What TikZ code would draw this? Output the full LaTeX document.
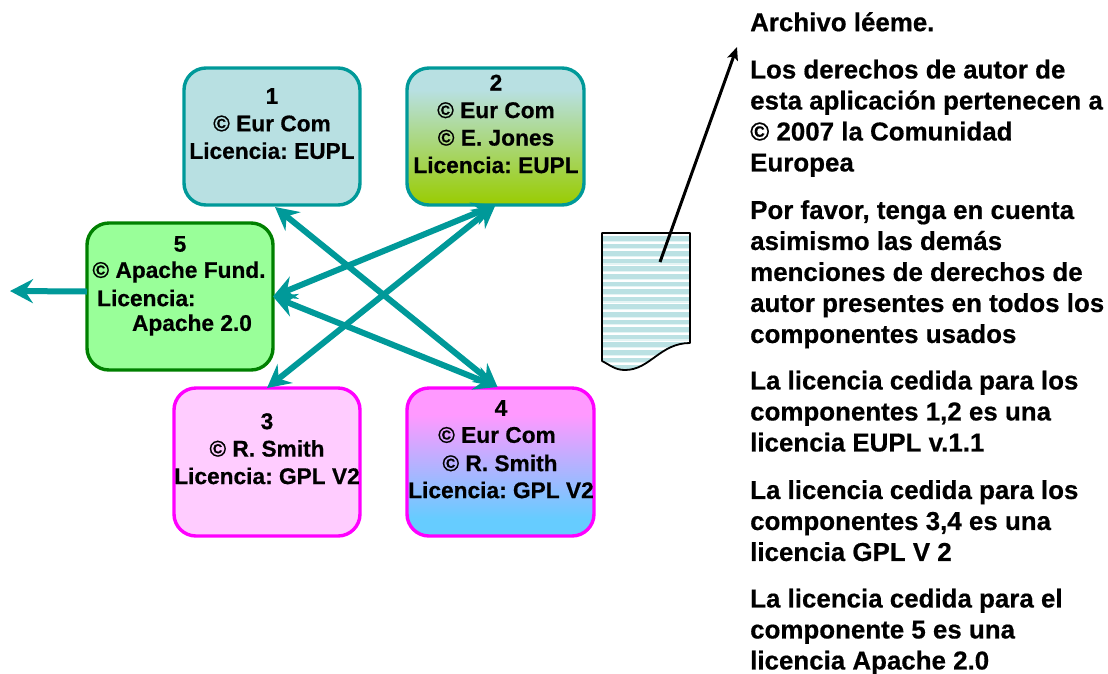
\documentclass[tikz,border=0pt]{standalone}
\usepackage{fontspec}
\setmainfont{Liberation Sans}[BoldFeatures={FakeBold=0.5}]
\usetikzlibrary{arrows.meta}
\AtBeginDocument{\frenchspacing}
\definecolor{teal1}{HTML}{009999}
\definecolor{stripe}{HTML}{BBE1E3}
\definecolor{stripelight}{HTML}{E4F4F4}
\definecolor{lightteal}{RGB}{184,224,226}
\definecolor{olivegreen}{RGB}{153,204,0}
\definecolor{pinktop}{RGB}{255,153,255}
\definecolor{skybot}{RGB}{102,204,255}
\pgfdeclareverticalshading{tealgreen}{100bp}{color(0bp)=(olivegreen); color(25bp)=(olivegreen); color(67bp)=(lightteal); color(100bp)=(lightteal)}
\pgfdeclareverticalshading{pinkblue}{100bp}{color(0bp)=(skybot); color(31bp)=(skybot); color(66bp)=(pinktop); color(100bp)=(pinktop)}
\tikzset{
 box/.style={rounded corners=22pt,line width=3.4pt,outer sep=0pt,inner sep=0pt,draw},
 boxtxt/.style={font=\fontsize{22.7}{27.5}\selectfont\bfseries,align=center,anchor=north,inner sep=0pt},
 linetxt/.style={font=\fontsize{22.7}{27.5}\selectfont\bfseries,inner sep=0pt},
 para/.style={font=\fontsize{25.9}{31}\selectfont\bfseries,align=left,anchor=north west,inner sep=0pt},
 link/.style={teal1,line width=6pt,{Stealth[length=23pt,width=24pt,inset=8pt]}-{Stealth[length=23pt,width=24pt,inset=8pt]}},
 outlink/.style={teal1,line width=6pt,-{Stealth[length=23pt,width=24pt,inset=8pt]}},
 pin/.style={black,line width=3pt,-{Stealth[length=13pt,width=11pt,inset=3pt]}},
}
\begin{document}
\begin{tikzpicture}[x=1pt,y=-1pt]
\useasboundingbox (0,0) rectangle (1108,673);
\node[box,minimum width=176pt,minimum height=137pt,draw=teal1,fill=lightteal] (b1) at (272,136.5) {};
\node[box,minimum width=177pt,minimum height=137pt,draw=teal1,shading=tealgreen] (b2) at (495.5,136.5) {};
\node[box,minimum width=186pt,minimum height=147pt,draw={rgb,255:red,0;green,128;blue,0},fill={rgb,255:red,153;green,255;blue,153}] (b5) at (180,296.5) {};
\node[box,minimum width=186pt,minimum height=148pt,draw={rgb,255:red,255;green,0;blue,255},fill={rgb,255:red,255;green,204;blue,255}] (b3) at (267,462) {};
\node[box,minimum width=187pt,minimum height=148pt,draw={rgb,255:red,255;green,0;blue,255},shading=pinkblue] (b4) at (500.5,462) {};
% document
\begin{scope}
\clip (602,233) -- (690,233) -- (690,343) .. controls (660,343) and (650,370) .. (625,370) .. controls (615,370) and (610,365) .. (602,361) -- cycle;
\foreach \yy in {236,243.6,...,372}{
 \fill[stripe] (600,\yy) rectangle (692,\yy+4.6);
 \fill[stripelight] (600,\yy+4.6) rectangle (692,\yy+5.8);
}
\end{scope}
\draw[line width=1.8pt,line join=round] (602,233) -- (690,233) -- (690,343) .. controls (660,343) and (650,370) .. (625,370) .. controls (615,370) and (610,365) .. (602,361) -- cycle;
\coordinate (docpin) at (660,262);
\coordinate (pintip) at (737,47);
\coordinate (outtip) at (10,291);
\draw[pin] (docpin) -- (pintip);
% links
\path (b1.south) ++(3,2) coordinate (l1a) (b4.north) ++(-3,-1) coordinate (l1b);
\draw[link] (l1a) -- (l1b);
\draw[link] (b2.south) -- (b5.east);
\draw[link] (b2.south) -- (b3.north);
\draw[link] (b5.east) -- (l1b);
\draw[outlink] ([yshift=5pt]b5.west) -- (outtip);
% box text
\node[boxtxt] (t1) at (272,88) {1\\© Eur Com\\Licencia: EUPL};
\node[boxtxt] (t2) at (496,74.5) {2\\© Eur Com\\© E. Jones\\Licencia: EUPL};
\node[boxtxt] (t3) at (267,413) {3\\© R. Smith\\Licencia: GPL V2};
\node[linetxt] (t4a) at (501,408) {4};
\node[linetxt] (t4b) at (497,435) {© Eur Com};
\node[linetxt] (t4c) at (500,463) {© R. Smith};
\node[linetxt] (t4d) at (501,490) {Licencia: GPL V2};
\node[linetxt] (t5a) at (180,244) {5};
\node[linetxt] (t5b) at (179,272) {© Apache Fund.};
\node[linetxt,anchor=west] (t5c) at (97,298) {Licencia:};
\node[linetxt] (t5d) at (192,325) {Apache 2.0};
% right text
\node[para] (p1) at (750,12) {Archivo léeme.};
\node[para] (p2) at (750,59.5) {Los derechos de autor de\\esta aplicación pertenecen a\\© 2007 la Comunidad\\Europea};
\node[para] (p3) at (750,200) {Por favor, tenga en cuenta\\asimismo las demás\\menciones de derechos de\\autor presentes en todos los\\componentes usados};
\node[para] (p4) at (750,370.5) {La licencia cedida para los\\componentes 1,2 es una\\licencia EUPL v.1.1};
\node[para] (p5) at (750,480) {La licencia cedida para los\\componentes 3,4 es una\\licencia GPL V 2};
\node[para] (p6) at (750,588.5) {La licencia cedida para el\\componente 5 es una\\licencia Apache 2.0};
\end{tikzpicture}
\end{document}
